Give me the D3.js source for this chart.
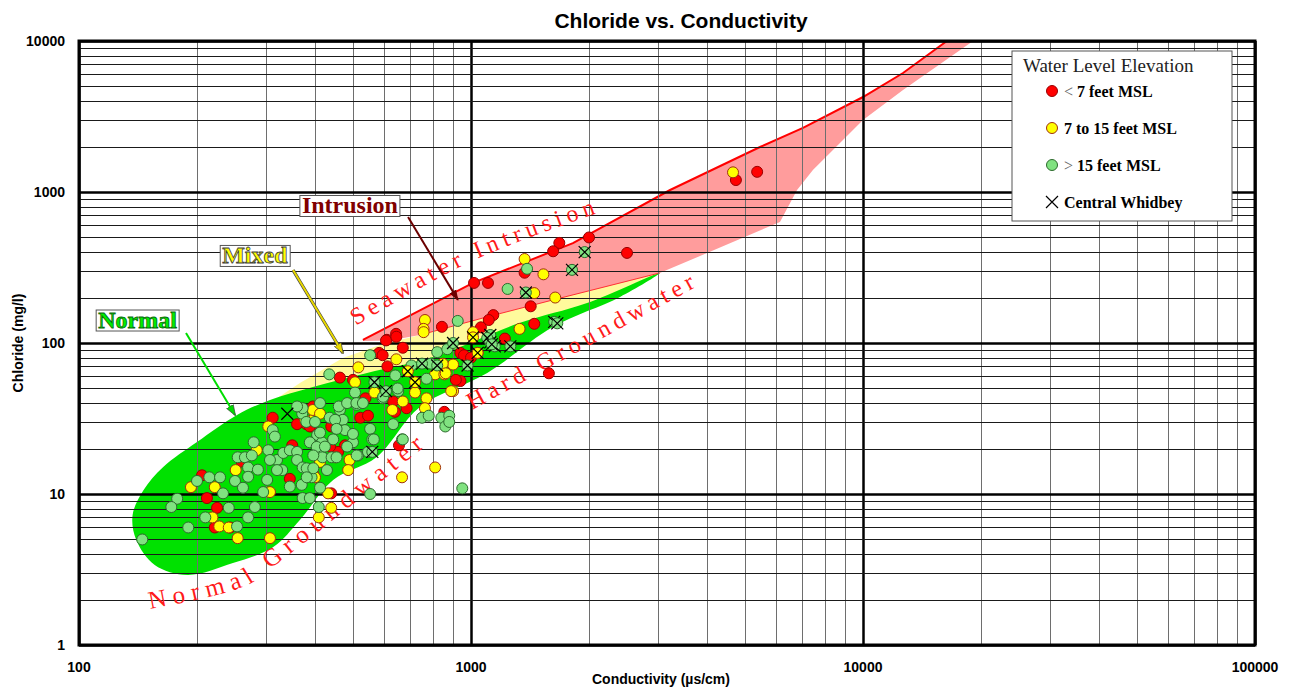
<!DOCTYPE html>
<html>
<head>
<meta charset="utf-8">
<script src="https://cdn.jsdelivr.net/npm/d3@7"></script>
<style>
  body { margin: 0; background: #fff; }
  svg { display: block; }
</style>
</head>
<body>
<svg width="1294" height="689"></svg>
<script>
// tick labels
var xTicks = [100, 1000, 10000, 100000];
var yTicks = [1, 10, 100, 1000, 10000];

// samples [conductivity (us/cm), chloride (mg/l)]
var redPts = [
  [5370,1360],[4740,1200],[2000,500],[1680,460],[1620,405],[2500,395],[1370,292],[1018,250],[1105,250],
  [1420,175],[1450,134],[1140,153],[1110,142],[843,128],[1060,127],[1220,107],[1580,63],[940,56],
  [644,115],[610,105],[670,93],[583,86],[595,83],[612,70],[463,59],[500,57],[607,104],[645,110],
  [522,32],[546,33],[640,35],[685,37],[633,41],[538,43],[477,21],[458,19],[432,21],[380,29],[395,38],
  [392,28],[655,21],[855,35],[940,86],[915,57],[960,83],[312,32],[350,21],[360,29],[388,28],[206,13.3],
  [225,8.1],[212,9.4],[222,6],[243,6],[260,16.4],[345,12.6],[440,10.1],[440,28],[437,20.6],[1000,80]
];
var yellowPts = [
  [4660,1350],[1370,360],[1530,285],[1640,200],[1450,214],[1330,124],[763,142],[757,124],[1012,118],
  [810,62],[855,62],[900,48],[900,72],[1040,86],[516,69],[506,55],[645,78],[567,47],[670,41],[720,47],
  [770,43],[763,37],[630,36],[395,31],[377,31],[450,17.5],[490,16.8],[486,14.4],[412,16.3],[396,13.7],
  [432,10.1],[847,73],[890,48],[862,63],[810,15],[667,12.9],[757,118],[193,11.1],[251,14.4],[222,11.1],
  [228,6.1],[241,6],[254,5.1],[307,5.1],[219,7],[307,10.3],[284,19.5],[304,28],[395,36],[409,7],
  [400,12.9],[412,34],[440,8.1]
];
var greenPts = [
  [1390,310],[1240,228],[925,140],[950,10.9],[553,10],[435,62],[145,5],[178,9.3],[172,8.2],[190,6],
  [210,7],[200,12.2],[215,12.9],[229,12.9],[233,10.1],[253,6.1],[270,7],[241,8.1],[250,12.2],[262,11],
  [279,22],[254,17.5],[265,17.5],[276,18],[270,15],[286,14.5],[302,12.4],[295,10.3],[281,8.2],[312,26.5],
  [316,24],[304,19.5],[320,16.8],[307,16.8],[330,14.4],[332,18.7],[345,19.5],[360,19],[360,16.8],[372,15],
  [320,14.4],[345,11.2],[370,11.5],[372,9.4],[388,9.4],[412,11],[392,12.9],[381,14.8],[371,34],[372,37],
  [360,38],[380,30],[400,30],[405,24.6],[388,22],[412,19],[417,22],[412,40],[396,14.8],[418,17.5],
  [409,8.2],[463,36],[506,47],[511,39],[471,31],[553,27],[595,43],[641,61],[652,48],[597,44],
  [633,29],[667,23],[560,23],[500,22],[477,26.5],[436,32],[412,25.5],[404,20.5],[396,18],[429,14.4],
  [381,12.9],[441,17.5],[515,18],[546,19],[750,32],[780,33],[840,32],[860,28],[880,33],[880,30],
  [820,87],[870,91],[770,58],[705,71],[790,73],[553,83],[460,38],[483,40],[510,40],[530,40],
  [450,31],[500,25],[454,27],[445,23],[424,20.6],[483,20.6],[565,23],[511,18],[454,17.5],[650,50],
  [670,23],[270,13]
];
// Central Whidbey wells: [conductivity, chloride, level class]
var whidbeyPts = [
  [1950,400,"g"],[1810,305,"g"],[1380,216,"g"],[1630,138,"g"],[1660,135,"g"],[1120,113,"g"],
  [1120,101,"g"],[1150,95,"g"],[1260,95,"g"],[1012,109,"y"],[1040,86,"y"],[900,100,"g"],
  [980,71,"g"],[820,71,"g"],[750,73,"g"],[720,55,"y"],[567,55,"g"],[607,48,"g"],[560,19,"g"],
  [690,65,"y"],[1100,108,"g"],[1130,98,"g"],[340,34,""]
];

// zone outlines in data units
var seawaterUpper = [[530,105],[1012,250],[1820,459],[3220,1031],[5460,1986],[7030,2655],[10000,4257],
  [12650,6140],[16370,10000],[20480,13770]];
var seawaterLower = [[530,103],[620,104],[741,113],[1100,149],[1620,193],[3030,291],[3839,377],[6140,633],
  [6788,1031],[7451,1399],[8735,2112],[10000,2999],[12650,4732],[19090,10000],[22350,13770]];
var mixedZone = [[273,33.9],[307,40.1],[366,54.3],[471,79.6],[586,97],[741,113],[1100,149],[1620,193],
  [2400,250],[3030,291],[2133,179],[1186,97],[659,56.9],[366,38.9]];
var normalZone = [[137,7.26],[146,10.6],[164,15.1],[200,22.1],[253,33.4],[307,41.9],[395,51.1],[543,63.3],
  [800,80.8],[1334,136],[1977,184],[3030,291],[2400,202],[1620,128],[1100,63.3],[741,37.7],[575,17.6],
  [445,12.4],[366,6.73],[313,4.46],[247,3.49],[189,2.91],[156,3.39],[140,4.96]];

// label baselines and arrows
var seawaterTextPath = [[509,130],[994,344],[2290,783]];
var hardTextPath = [[1006,36],[3954,254]];
var normalTextPath = [[151.8,1.73],[265,2.46],[322,3.49],[937,31.9]];
var callouts = [
  { text: "Intrusion", at: [491,814], from: [691,683], to: [926,193], fill: "#800000", stroke: "none", arrow: "#6b0000" },
  { text: "Mixed", at: [281,380], from: [351.6,304], to: [471,85.9], fill: "#ffff00", stroke: "#404040", arrow: "#e8d800" },
  { text: "Normal", at: [141,142], from: [187.5,116.5], to: [250,33.4], fill: "#00ee00", stroke: "#0a6a0a", arrow: "#00dd00" }
];

var svg = d3.select("svg"),
  margin = { top: 41, right: 39, bottom: 44, left: 79 },
  width = 1294 - margin.left - margin.right,
  height = 689 - margin.top - margin.bottom;

var x = d3.scaleLog().domain([100, 100000]).range([margin.left, margin.left + width]);
var y = d3.scaleLog().domain([1, 10000]).range([margin.top + height, margin.top]);

var SANS = "Arial, 'Liberation Sans', sans-serif";
var SERIF = "'Times New Roman', 'Liberation Serif', serif";

var defs = svg.append("defs");
defs.append("clipPath").attr("id", "plotclip")
  .append("rect")
  .attr("x", margin.left).attr("y", margin.top)
  .attr("width", width).attr("height", height);

function isDecade(v) {
  var l = Math.log10(v);
  return Math.abs(l - Math.round(l)) < 1e-6;
}

var plot = svg.append("g").attr("clip-path", "url(#plotclip)");

// zones
var poly = d3.line().x(d => x(d[0])).y(d => y(d[1]));
plot.append("path")
  .attr("d", poly(mixedZone) + "Z")
  .attr("fill", "#fffa9c");
plot.append("path")
  .attr("d", d3.line().x(d => x(d[0])).y(d => y(d[1])).curve(d3.curveCatmullRomClosed.alpha(0.5))(normalZone))
  .attr("fill", "#00e100");
plot.append("path")
  .attr("d", poly(seawaterUpper.concat(seawaterLower.slice().reverse())) + "Z")
  .attr("fill", "#ff9c9c");

// grid
x.ticks().forEach(function (v) {
  var major = isDecade(v);
  var xp = Math.round(x(v)) + 0.5;
  svg.append("line")
    .attr("x1", xp).attr("x2", xp)
    .attr("y1", margin.top).attr("y2", margin.top + height)
    .attr("stroke", major ? "#000" : "#6e6e6e")
    .attr("stroke-width", major ? 2.5 : 1);
});
y.ticks().forEach(function (v) {
  var major = isDecade(v);
  var yp = Math.round(y(v)) + 0.5;
  svg.append("line")
    .attr("x1", margin.left).attr("x2", margin.left + width)
    .attr("y1", yp).attr("y2", yp)
    .attr("stroke", major ? "#000" : "#1a1a1a")
    .attr("stroke-width", major ? 2.5 : 1);
});

// red edges of the seawater band
plot.append("path")
  .attr("d", poly(seawaterUpper))
  .attr("fill", "none").attr("stroke", "#ff0000").attr("stroke-width", 2);
plot.append("path")
  .attr("d", poly(seawaterLower.slice(2, 6)))
  .attr("fill", "none").attr("stroke", "#ff3030").attr("stroke-width", 1);

// curved zone labels
function addPathText(id, pts, curve, label, size, spacing) {
  var line = d3.line().x(d => x(d[0])).y(d => y(d[1]));
  if (curve) line.curve(d3.curveCatmullRom.alpha(0.5));
  defs.append("path").attr("id", id).attr("d", line(pts));
  svg.append("text")
    .attr("font-family", SERIF)
    .attr("font-size", size)
    .attr("fill", "#ff1a1a")
    .attr("letter-spacing", spacing)
    .append("textPath")
    .attr("href", "#" + id)
    .text(label);
}
addPathText("swpath", seawaterTextPath, true, "Seawater  Intrusion", 24, 5);
addPathText("hdpath", hardTextPath, false, "Hard Groundwater", 24, 5);
addPathText("ngpath", normalTextPath, true, "Normal Groundwater", 25, 6.5);

// sample points
function dots(data, fill, stroke) {
  svg.append("g").selectAll("circle")
    .data(data)
    .enter()
    .append("circle")
    .attr("cx", d => x(d[0]))
    .attr("cy", d => y(d[1]))
    .attr("r", 5.5)
    .attr("fill", fill)
    .attr("stroke", stroke)
    .attr("stroke-width", 1);
}
dots(redPts, "#ff0000", "#9a0000");
dots(yellowPts, "#ffff00", "#a03010");
dots(greenPts, "#80e280", "#2c6a2c");

var wfill = { g: "#80e280", y: "#ffff00" };
var wstroke = { g: "#2c6a2c", y: "#a03010" };
var wg = svg.append("g");
whidbeyPts.forEach(function (d) {
  var cx = x(d[0]), cy = y(d[1]);
  if (d[2]) {
    wg.append("circle").attr("cx", cx).attr("cy", cy).attr("r", 5.5)
      .attr("fill", wfill[d[2]]).attr("stroke", wstroke[d[2]]);
  }
  wg.append("path")
    .attr("d", "M" + (cx - 6) + "," + (cy - 6) + "L" + (cx + 6) + "," + (cy + 6) +
      "M" + (cx - 6) + "," + (cy + 6) + "L" + (cx + 6) + "," + (cy - 6))
    .attr("stroke", "#000").attr("stroke-width", 1.2);
});

// callout labels with arrows
callouts.forEach(function (c, i) {
  var mk = defs.append("marker")
    .attr("id", "arr" + i)
    .attr("viewBox", "0 0 10 10")
    .attr("refX", 9).attr("refY", 5)
    .attr("markerWidth", 11).attr("markerHeight", 11)
    .attr("markerUnits", "userSpaceOnUse")
    .attr("orient", "auto");
  mk.append("path").attr("d", "M0,1.5L10,5L0,8.5Z").attr("fill", c.arrow)
    .attr("stroke", c.stroke === "none" ? "none" : "#404040").attr("stroke-width", 0.6);
  if (c.text === "Mixed") {
    svg.append("line")
      .attr("x1", x(c.from[0])).attr("y1", y(c.from[1]))
      .attr("x2", x(c.to[0])).attr("y2", y(c.to[1]))
      .attr("stroke", "#404040").attr("stroke-width", 3.2);
  }
  svg.append("line")
    .attr("x1", x(c.from[0])).attr("y1", y(c.from[1]))
    .attr("x2", x(c.to[0])).attr("y2", y(c.to[1]))
    .attr("stroke", c.arrow).attr("stroke-width", 2)
    .attr("marker-end", "url(#arr" + i + ")");

  var g = svg.append("g");
  var rect = g.append("rect").attr("fill", "#fff").attr("stroke", "#555").attr("stroke-width", 1);
  var t = g.append("text")
    .attr("x", x(c.at[0])).attr("y", y(c.at[1]))
    .attr("text-anchor", "middle").attr("dominant-baseline", "central")
    .attr("font-family", SERIF).attr("font-weight", "bold").attr("font-size", 24)
    .attr("fill", c.fill)
    .attr("stroke", c.stroke).attr("stroke-width", 0.8)
    .text(c.text);
  var bb = t.node().getBBox();
  rect.attr("x", bb.x - 2).attr("y", bb.y + 3).attr("width", bb.width + 4).attr("height", bb.height - 5);
});

// frame
svg.append("rect")
  .attr("x", margin.left).attr("y", margin.top)
  .attr("width", width).attr("height", height)
  .attr("fill", "none").attr("stroke", "#000").attr("stroke-width", 3);

// axes labels
svg.append("g").selectAll("text")
  .data(xTicks).enter().append("text")
  .attr("x", d => x(d)).attr("y", margin.top + height + 27)
  .attr("text-anchor", "middle")
  .attr("font-family", SANS).attr("font-weight", "bold").attr("font-size", 14)
  .text(d => d);
svg.append("g").selectAll("text")
  .data(yTicks).enter().append("text")
  .attr("x", margin.left - 14).attr("y", d => y(d) + 5)
  .attr("text-anchor", "end")
  .attr("font-family", SANS).attr("font-weight", "bold").attr("font-size", 14)
  .text(d => d);

svg.append("text")
  .attr("x", 681).attr("y", 28)
  .attr("text-anchor", "middle")
  .attr("font-family", SANS).attr("font-weight", "bold").attr("font-size", 21)
  .text("Chloride vs. Conductivity");
svg.append("text")
  .attr("x", 661).attr("y", 684)
  .attr("text-anchor", "middle")
  .attr("font-family", SANS).attr("font-weight", "bold").attr("font-size", 14)
  .text("Conductivity (\u00b5s/cm)");
svg.append("text")
  .attr("transform", "translate(23," + (margin.top + height / 2) + ")rotate(-90)")
  .attr("text-anchor", "middle")
  .attr("font-family", SANS).attr("font-weight", "bold").attr("font-size", 14)
  .text("Chloride (mg/l)");

// legend
var lg = svg.append("g").attr("transform", "translate(1012,51)");
lg.append("rect").attr("width", 220).attr("height", 170)
  .attr("fill", "#fff").attr("stroke", "#555").attr("stroke-width", 1);
lg.append("text").attr("x", 11).attr("y", 21)
  .attr("font-family", SERIF).attr("font-size", 19).attr("fill", "#222")
  .text("Water Level Elevation");
var items = [
  { sym: "<", label: " 7 feet MSL", fill: "#ff0000", stroke: "#9a0000" },
  { sym: "", label: "7 to 15 feet MSL", fill: "#ffff00", stroke: "#a03010" },
  { sym: ">", label: " 15 feet MSL", fill: "#80e280", stroke: "#2c6a2c" },
  { sym: "", label: "Central Whidbey", fill: null }
];
items.forEach(function (it, i) {
  var cy = 40 + i * 37;
  if (it.fill) {
    lg.append("circle").attr("cx", 40).attr("cy", cy).attr("r", 5.5)
      .attr("fill", it.fill).attr("stroke", it.stroke);
  } else {
    lg.append("path")
      .attr("d", "M34," + (cy - 6) + "L46," + (cy + 6) + "M34," + (cy + 6) + "L46," + (cy - 6))
      .attr("stroke", "#000").attr("stroke-width", 1.2);
  }
  var t = lg.append("text").attr("x", 52).attr("y", cy + 6)
    .attr("font-family", SERIF).attr("font-size", 16).attr("font-weight", "bold");
  if (it.sym) t.append("tspan").attr("fill", "#666").attr("font-weight", "normal").text(it.sym);
  t.append("tspan").text(it.label);
});
</script>
</body>
</html>
